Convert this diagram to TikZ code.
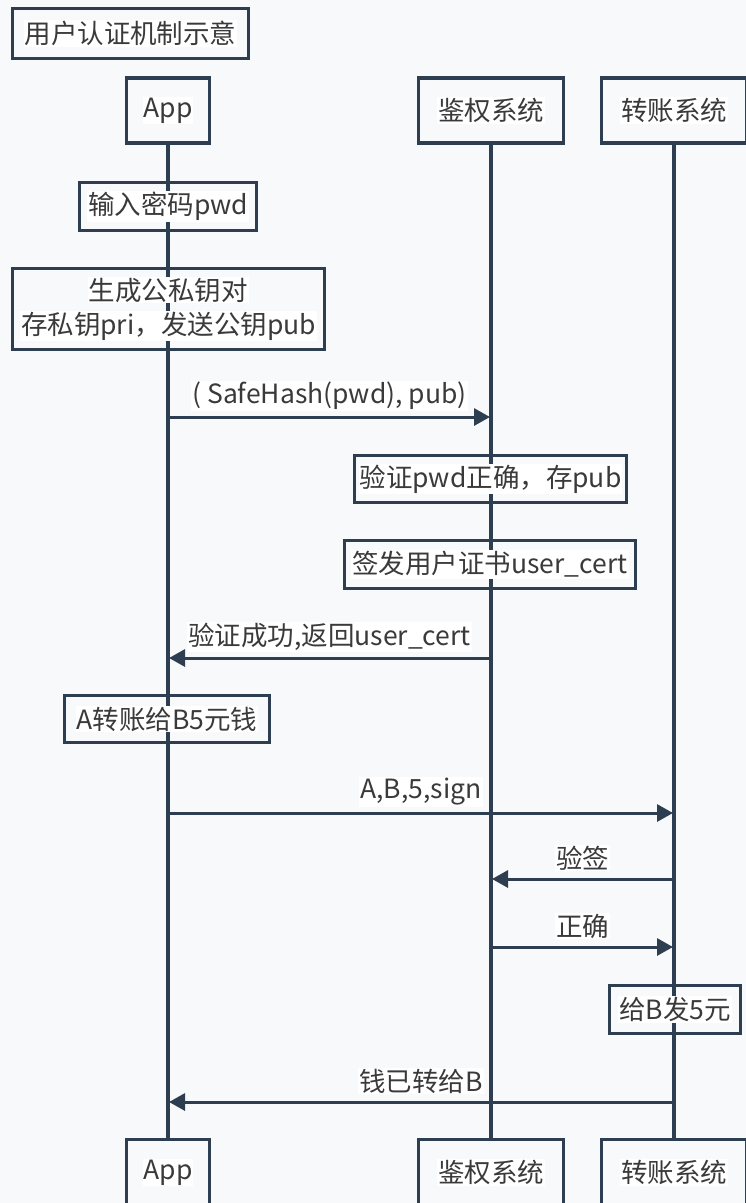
\documentclass[tikz,border=0pt]{standalone}
\usepackage{fontspec}
\setmainfont{Noto Sans CJK SC}
\usetikzlibrary{arrows.meta}
\definecolor{bgc}{HTML}{F8F9FB}
\definecolor{lnc}{HTML}{2C3E50}
\definecolor{txc}{HTML}{3A3A3A}
\pgfdeclarelayer{bglayer}
\pgfsetlayers{bglayer,main}
\newcommand{\wb}[1]{{\setlength{\fboxsep}{1pt}\colorbox{white}{#1}}}
\begin{document}
\begin{tikzpicture}[x=1pt,y=-1pt,
  font=\fontsize{26.5pt}{34pt}\selectfont, text=txc,
  box/.style={draw=lnc,line width=3.2pt,inner sep=0pt,align=center},
  lifeline/.style={draw=lnc,line width=3.2pt},
  msg/.style={draw=lnc,line width=3pt,-{Triangle[length=16pt,width=17pt]},shorten >=1pt},
  lbl/.style={fill=white,inner sep=1pt,midway,yshift=21pt}]
\useasboundingbox (0,0) rectangle (746,1203);
\clip (0,0) rectangle (746,1203);
\begin{pgfonlayer}{bglayer}
\fill[bgc] (0,0) rectangle (746,1203);
\end{pgfonlayer}
% boxes
\node[box,minimum width=236pt,minimum height=50pt] (title) at (130.5,33.5) {\wb{用户认证机制示意}};
\node[box,minimum width=83pt,minimum height=65pt] (apptop) at (168,110.5) {\wb{App}};
\node[box,minimum width=145pt,minimum height=65pt] (authtop) at (491,110.5) {\wb{鉴权系统}};
\node[box,minimum width=145pt,minimum height=65pt] (transtop) at (674,110.5) {\wb{转账系统}};
\node[box,minimum width=177pt,minimum height=48pt] (pwd) at (168,206.5) {\wb{输入密码pwd}};
\node[box,minimum width=312pt,minimum height=81pt] (keys) at (168.5,309) {\wb{生成公私钥对}\\\wb{存私钥pri，发送公钥pub}};
\node[box,minimum width=272pt,minimum height=47pt] (verify) at (490.5,479) {\wb{验证pwd正确，存pub}};
\node[box,minimum width=291pt,minimum height=48pt] (cert) at (490,564.5) {\wb{签发用户证书user\_cert}};
\node[box,minimum width=205pt,minimum height=47pt] (transfer) at (167,719) {\wb{A转账给B5元钱}};
\node[box,minimum width=131pt,minimum height=48pt] (pay) at (675,1009.5) {\wb{给B发5元}};
\node[box,minimum width=83pt,minimum height=66pt] (appbot) at (168,1172.5) {\wb{App}};
\node[box,minimum width=145pt,minimum height=66pt] (authbot) at (491,1172.5) {\wb{鉴权系统}};
\node[box,minimum width=145pt,minimum height=66pt] (transbot) at (674,1172.5) {\wb{转账系统}};
% lifelines
\begin{pgfonlayer}{bglayer}
\draw[lifeline] (apptop.south) -- (appbot.north);
\draw[lifeline] (authtop.south) -- (authbot.north);
\draw[lifeline] (transtop.south) -- (transbot.north);
\end{pgfonlayer}
% message end points
\coordinate (m1a) at (168,417);   \coordinate (m1b) at (491,417);
\coordinate (m2a) at (491,658);   \coordinate (m2b) at (168,658);
\coordinate (m3a) at (168,813);   \coordinate (m3b) at (674,813);
\coordinate (m4a) at (674,879);   \coordinate (m4b) at (491,879);
\coordinate (m5a) at (491,947);   \coordinate (m5b) at (674,947);
\coordinate (m6a) at (674,1102);  \coordinate (m6b) at (168,1102);
\draw[msg] (m1a) -- (m1b) node[lbl] {( SafeHash(pwd), pub)};
\draw[msg] (m2a) -- (m2b) node[lbl] {验证成功,返回user\_cert};
\draw[msg] (m3a) -- (m3b) node[lbl] {A,B,5,sign};
\draw[msg] (m4a) -- (m4b) node[lbl] {验签};
\draw[msg] (m5a) -- (m5b) node[lbl] {正确};
\draw[msg] (m6a) -- (m6b) node[lbl] {钱已转给B};
\end{tikzpicture}
\end{document}
